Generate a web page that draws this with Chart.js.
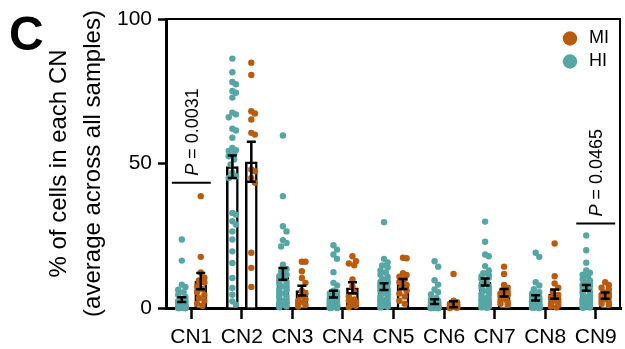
<!DOCTYPE html>
<html>
<head>
<meta charset="utf-8">
<script src="https://cdn.jsdelivr.net/npm/chart.js@4/dist/chart.umd.min.js"></script>
<style>
html, body { margin: 0; padding: 0; background: #fff; }
</style>
</head>
<body>
<canvas id="cnChart" width="625" height="349"></canvas>
<script>
// categories + group names
const cnLabels = ['CN1', 'CN2', 'CN3', 'CN4', 'CN5', 'CN6', 'CN7', 'CN8', 'CN9'];
const yTickValues = [0, 50, 100];
const hiColor = '#55a6a5';
const miColor = '#ba5b0d';

// bar heights (mean) and error (SEM)
const hiMeans = [2.9, 48.9, 11.8, 4.8, 7.4, 2.2, 9.0, 3.5, 7.0];
const hiSem   = [0.8, 3.9, 2.0, 1.2, 1.2, 0.8, 1.2, 0.9, 1.0];
const miMeans = [9.3, 50.6, 6.0, 7.0, 8.3, 1.3, 5.3, 4.8, 4.3];
const miSem   = [2.8, 6.9, 1.7, 1.9, 1.7, 1.0, 1.3, 1.6, 1.1];

// individual samples, HI (one list per CN)
const hiValues = [
    [23.7, 16.4, 8.1, 7.3, 6.3, 5.5, 4.6, 3.8, 3.2, 2.8, 2.4, 2.0, 1.8, 1.5, 1.3, 1.1, 1.0, 0.8, 0.7, 0.6, 0.5, 0.4, 0.3, 0.3, 0.2, 0.2, 0.1, 0.1, 0.1, 0, 0, 0, 0, 0, 0, 0],
    [86.3, 81.6, 78.2, 77.4, 75.1, 74.5, 72.8, 67.6, 67.0, 66.0, 62.0, 61.4, 58.9, 55.4, 54.6, 54.3, 53.5, 52.5, 51.4, 49.7, 46.8, 45.6, 45.0, 32.9, 32.3, 30.0, 28.9, 26.5, 23.7, 19.6, 15.6, 10.4, 6.9, 4.6, 2.3, 1.1],
    [59.7, 38.7, 28.3, 26.5, 23.5, 22.5, 21.3, 15, 13.5, 12.5, 11.5, 10.8, 10, 9.5, 9, 8.5, 8, 7.5, 7, 6.5, 6, 5.5, 5, 4.5, 4, 3.5, 3, 2.5, 2, 1.8, 1.5, 1.2, 1, 0.8, 0.5, 0.3],
    [21.7, 20.2, 18.5, 17, 12.4, 8.7, 7.8, 6, 5.5, 5, 4.5, 4, 3.8, 3.5, 3.2, 3, 2.8, 2.5, 2.3, 2, 1.8, 1.6, 1.4, 1.2, 1, 0.9, 0.8, 0.7, 0.6, 0.5, 0.4, 0.3, 0.2, 0.1, 0, 0],
    [29.7, 17, 15.8, 14.7, 14, 13, 12.3, 11.5, 10.8, 10, 9.5, 9, 8.5, 8, 7.5, 7, 6.5, 6, 5.5, 5, 4.5, 4, 3.5, 3, 2.8, 2.5, 2.2, 2, 1.8, 1.5, 1.2, 1, 0.8, 0.6, 0.4, 0.2],
    [16.2, 14.3, 9.6, 8.1, 6.4, 5.5, 4.7, 3.5, 3, 2.5, 2, 1.8, 1.5, 1.3, 1.1, 1, 0.9, 0.8, 0.7, 0.6, 0.5, 0.4, 0.3, 0.3, 0.2, 0.2, 0.1, 0.1, 0.1, 0, 0, 0, 0, 0, 0, 0],
    [29.9, 22.9, 18.5, 17.9, 14.5, 13, 12, 11.5, 11, 10.5, 10, 8.5, 8, 7.5, 7, 6.5, 6, 5.5, 5, 4.5, 4, 3.5, 3, 2.8, 2.5, 2.2, 2, 1.8, 1.5, 1.2, 1, 0.8, 0.6, 0.4, 0.2, 0.1],
    [19.1, 17.7, 8.9, 7.8, 6.5, 5.5, 5, 4.5, 4, 3.7, 3.4, 3.1, 2.8, 2.5, 2.3, 2.1, 1.9, 1.7, 1.5, 1.3, 1.2, 1.1, 1, 0.9, 0.8, 0.7, 0.6, 0.5, 0.4, 0.3, 0.3, 0.2, 0.2, 0.1, 0.1, 0],
    [25.1, 20, 15.7, 13, 12.2, 11.5, 11, 10, 9.5, 9, 8.5, 8, 7.5, 7, 6.5, 6, 5.5, 5, 4.5, 4, 3.6, 3.2, 2.8, 2.5, 2.2, 2, 1.8, 1.5, 1.2, 1, 0.8, 0.6, 0.4, 0.3, 0.2, 0.1]
];

// individual samples, MI
const miValues = [
    [38.7, 17.7, 12.3, 10.5, 9.5, 8.8, 7.5, 6.5, 5.5, 4.5, 3.5, 2.5, 1.5, 0.8],
    [84.9, 80.6, 68.1, 67.3, 65.2, 60.6, 60.0, 47.9, 47.3, 45.0, 43.3, 19.1, 13.9, 7.3],
    [16, 16, 12.7, 10.4, 8.7, 6, 5, 4, 3, 2.5, 2, 1.5, 1, 0.5],
    [17.9, 16.2, 15.4, 14.8, 9.9, 7.5, 5.5, 4, 3, 2.5, 2, 1.2, 0.8, 0.3],
    [17.4, 17.2, 12, 11.4, 10.8, 10, 9, 8, 7, 6, 5, 4, 2.5, 1.5],
    [11.8, 2.5, 2, 1.5, 1.2, 1, 0.8, 0.6, 0.5, 0.4, 0.3, 0.2, 0.1, 0],
    [14.3, 11.8, 8, 7, 6, 5.5, 5, 4.5, 4, 3, 2.5, 2, 1.5, 1],
    [22.3, 11, 8.5, 7, 5.5, 4.5, 3.5, 3, 2.5, 2, 1.5, 1, 0.5, 0.2],
    [8.9, 8, 7, 6.5, 5.5, 5, 4.5, 4, 3.5, 3, 2.5, 2, 1.5, 1]
];

// significance brackets
const pIndex = [0, 8];
const pLevel = [43.3, 29.2];
const pText  = ['0.0031', '0.0465'];

const FONT = "'Liberation Sans', Arial, sans-serif";
Chart.defaults.font.family = FONT;
Chart.defaults.color = '#000';

// layout numbers
const PAD_TOP = 19, PAD_RIGHT = 4, Y_AXIS_W = 166, X_AXIS_H = 41;
const catW = (625 - Y_AXIS_W - PAD_RIGHT) / cnLabels.length;
const pxY = (349 - X_AXIS_H - PAD_TOP) / 100;
const GROUP_SHIFT = 0.1875;   // HI left of the tick, MI right of it (category units)
const MIN_D = 6;

// simple beeswarm so the dots don't sit all on one line
function swarm(vals) {
    const cands = [0, 1.8, -1.8, 3.6, -3.6];
    const order = vals.map((v, k) => k).sort((a, b) => vals[b] - vals[a]);
    const placed = [];
    const off = new Array(vals.length).fill(0);
    order.forEach(k => {
        const py = vals[k] * pxY;
        let best = 0, bestCost = Infinity;
        cands.forEach(c => {
            let cost = 0;
            placed.forEach(p => {
                const d = Math.hypot(p.x - c, p.y - py);
                if (d < MIN_D) cost += MIN_D - d;
            });
            if (cost < bestCost - 0.01) { bestCost = cost; best = c; }
        });
        placed.push({x: best, y: py});
        off[k] = best / catW;
    });
    return off;
}

function pointsFor(values, side) {
    const pts = [];
    values.forEach((vals, i) => {
        const off = swarm(vals);
        vals.forEach((v, k) => pts.push({x: i + side * GROUP_SHIFT + off[k], y: v}));
    });
    return pts;
}

function barsFor(means, side) {
    return means.map((m, i) => ({x: i + side * GROUP_SHIFT, y: m}));
}

//error bars on top of everything
const errorBars = {
    id: 'errorBars',
    afterDatasetsDraw(chart) {
        const ctx = chart.ctx, y = chart.scales.y;
        ctx.save();
        ctx.strokeStyle = '#000';
        ctx.lineWidth = 2.5;
        [[0, hiMeans, hiSem], [1, miMeans, miSem]].forEach(([di, m, s]) => {
            chart.getDatasetMeta(di).data.forEach((bar, i) => {
                const top = y.getPixelForValue(m[i] + s[i]);
                const bot = y.getPixelForValue(Math.max(m[i] - s[i], 0));
                ctx.beginPath();
                ctx.moveTo(bar.x, top); ctx.lineTo(bar.x, bot);
                ctx.moveTo(bar.x - 4.5, top); ctx.lineTo(bar.x + 4.5, top);
                ctx.moveTo(bar.x - 4.5, bot); ctx.lineTo(bar.x + 4.5, bot);
                ctx.stroke();
            });
        });
        ctx.restore();
    }
};

// frame, P values, legend, panel letter
const decor = {
    id: 'decor',
    afterDraw(chart) {
        const ctx = chart.ctx, a = chart.chartArea;
        const x2 = chart.scales.x2, y = chart.scales.y;
        ctx.save();
        ctx.strokeStyle = '#000';
        ctx.lineWidth = 2;
        ctx.beginPath();
        ctx.moveTo(a.left, a.top);
        ctx.lineTo(a.right - 1, a.top);
        ctx.lineTo(a.right - 1, a.bottom);
        ctx.stroke();

        ctx.fillStyle = '#000';
        pIndex.forEach((ci, k) => {
            const yy = y.getPixelForValue(pLevel[k]);
            const x0 = x2.getPixelForValue(ci - 0.385), x1 = x2.getPixelForValue(ci + 0.385);
            ctx.beginPath();
            ctx.moveTo(x0, yy); ctx.lineTo(x1, yy);
            ctx.stroke();
            ctx.save();
            ctx.translate((x0 + x1) / 2 + 1.5, yy - 7);
            ctx.rotate(-Math.PI / 2);
            ctx.textAlign = 'left';
            ctx.textBaseline = 'middle';
            ctx.font = 'italic 18px ' + FONT;
            ctx.fillText('P', 0, 0);
            const pw = ctx.measureText('P').width;
            ctx.font = '18px ' + FONT;
            ctx.fillText(' = ' + pText[k], pw, 0);
            ctx.restore();
        });

        const legendItems = [['MI', miColor], ['HI', hiColor]];
        legendItems.forEach(([t, c], k) => {
            const cy = a.top + 19.5 + k * 23;
            ctx.fillStyle = c;
            ctx.beginPath();
            ctx.arc(a.right - 51, cy, 7.2, 0, 2 * Math.PI);
            ctx.fill();
            ctx.fillStyle = '#000';
            ctx.font = '18px ' + FONT;
            ctx.textAlign = 'left';
            ctx.textBaseline = 'middle';
            ctx.fillText(t, a.right - 32, cy);
        });

        ctx.font = 'bold 48px ' + FONT;
        ctx.textBaseline = 'alphabetic';
        ctx.fillText('C', 9, 50);
        ctx.restore();
    }
};

new Chart(document.getElementById('cnChart'), {
    type: 'bar',
    data: {
        labels: cnLabels,
        datasets: [
            {label: 'HI', xAxisID: 'x2', data: barsFor(hiMeans, -1), backgroundColor: '#fff', borderColor: '#000',
             borderWidth: 2.5, barThickness: 12, grouped: false, order: 3},
            {label: 'MI', xAxisID: 'x2', data: barsFor(miMeans, 1), backgroundColor: '#fff', borderColor: '#000',
             borderWidth: 2.5, barThickness: 12, grouped: false, order: 3},
            {type: 'scatter', label: 'HI', xAxisID: 'x2', data: pointsFor(hiValues, -1),
             backgroundColor: hiColor, borderWidth: 0, pointRadius: 3.2, order: 1, clip: false},
            {type: 'scatter', label: 'MI', xAxisID: 'x2', data: pointsFor(miValues, 1),
             backgroundColor: miColor, borderWidth: 0, pointRadius: 3.2, order: 1, clip: false}
        ]
    },
    options: {
        responsive: false,
        animation: false,
        devicePixelRatio: 1,
        layout: {padding: {top: PAD_TOP, right: PAD_RIGHT, left: 0, bottom: 0}},
        plugins: {legend: {display: false}, tooltip: {enabled: false}},
        scales: {
            x: {
                type: 'category',
                offset: true,
                grid: {drawOnChartArea: false, offset: false, tickLength: 11, tickWidth: 2.5, tickColor: '#000'},
                border: {color: '#000', width: 3},
                ticks: {color: '#000', font: {size: 21}, padding: 6, maxRotation: 0, autoSkip: false},
                afterFit(s) { s.height = X_AXIS_H; }
            },
            x2: {type: 'linear', min: -0.5, max: 8.5, offset: false, display: false},
            y: {
                min: 0, max: 100,
                afterBuildTicks(s) { s.ticks = yTickValues.map(v => ({value: v})); },
                grid: {drawOnChartArea: false, tickLength: 8, tickWidth: 2.5, tickColor: '#000'},
                border: {color: '#000', width: 3},
                ticks: {color: '#000', font: {size: 21}, padding: 6},
                title: {
                    display: true,
                    text: ['% of cells in each CN', '(average across all samples)'],
                    color: '#000',
                    font: {size: 24, lineHeight: 1.42},
                    padding: {top: 42, bottom: 0}
                },
                afterFit(s) { s.width = Y_AXIS_W; }
            }
        }
    },
    plugins: [errorBars, decor]
});
</script>
</body>
</html>
